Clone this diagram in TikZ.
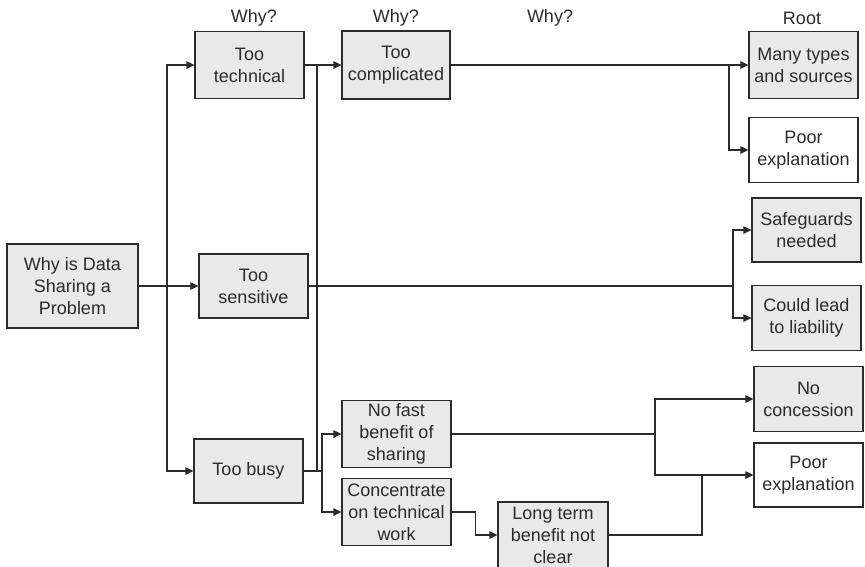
\documentclass[tikz,border=0pt]{standalone}
\usepackage{fontspec}
\setmainfont{Liberation Sans}
\usetikzlibrary{arrows.meta}
\definecolor{boxfill}{HTML}{E8E9E8}
\definecolor{inkline}{HTML}{2B2B2B}
\begin{document}
\begin{tikzpicture}[x=1pt,y=-1pt,
  every node/.style={font=\fontsize{18}{22}\selectfont, text=inkline},
  cause/.style={draw=inkline, line width=1.2pt, fill=boxfill, align=center,
    minimum width=109pt, minimum height=66pt, inner sep=0pt},
  plain/.style={cause, fill=white},
  link/.style={draw=inkline, line width=1.2pt},
  arr/.style={link, -{Triangle[length=8pt,width=7.5pt]}},
  head/.style={inner sep=0pt}]
\useasboundingbox (0,0) rectangle (865,566);

% column headings
\node[head] (h1) at (254,18) {Why?};
\node[head] (h2) at (396,18) {Why?};
\node[head] (h3) at (550,18) {Why?};
\node[head] (h4) at (802,18) {Root};

% problem statement
\node[cause, minimum width=131pt, minimum height=84pt] (q) at (72.5,286) {Why is Data\\Sharing a\\Problem};

% first level
\node[cause, minimum height=67pt] (t1) at (249.5,65) {Too\\technical};
\node[cause, minimum height=64pt] (t2) at (253.5,286) {Too\\sensitive};
\node[cause, minimum height=64pt] (t3) at (248.5,471) {Too busy};

% second level
\node[cause, minimum width=108pt, minimum height=68pt] (c1) at (396,65) {Too\\complicated};
\node[cause, minimum height=67pt] (n1) at (396.5,434) {No fast\\benefit of\\sharing};
\node[cause, minimum height=67pt] (n2) at (396.5,512) {Concentrate\\on technical\\work};

% third level
\node[cause, minimum width=110pt, minimum height=66pt] (l1) at (553,535) {Long term\\benefit not\\clear};

% roots
\node[cause, minimum height=67pt] (r1) at (803.5,65) {Many types\\and sources};
\node[plain, minimum height=65pt] (r2) at (803.5,150) {Poor\\explanation};
\node[cause, minimum height=64pt] (r3) at (806.5,230) {Safeguards\\needed};
\node[cause, minimum height=65pt] (r4) at (806.5,318) {Could lead\\to liability};
\node[cause, minimum height=65pt] (r5) at (808.5,399) {No\\concession};
\node[plain, minimum height=64pt] (r6) at (808.5,475) {Poor\\explanation};

% junction points
\coordinate (sA) at (167,286);
\coordinate (sB) at (317,65);
\coordinate (sC) at (317,471);
\coordinate (jc) at (729,65);
\coordinate (js) at (733,286);
\coordinate (jb) at (322,471);
\coordinate (jn) at (655,434);
\coordinate (jl) at (702,475);

% problem to first level
\draw[arr] (q.east) -- (t2.west);
\draw[arr] (sA) |- (t1.west);
\draw[arr] (sA) |- (t3.west);

% too technical
\draw[arr] (t1.east) -- (c1.west);
\draw[link] (sB) -- (sC);

% too complicated to roots
\draw[arr] (c1.east) -- (r1.west);
\draw[arr] (jc) |- (r2.west);

% too sensitive to roots
\draw[link] (t2.east) -- (js);
\draw[arr] (js) |- (r3.west);
\draw[arr] (js) |- (r4.west);

% too busy branches
\draw[link] (t3.east) -- (jb);
\draw[arr] (jb) |- (n1.west);
\draw[arr] (jb) |- (n2.west);
\draw[arr] (n2.east) -- ++(24,0) |- (l1.west);

% benefit branches to roots
\draw[link] (n1.east) -- (jn);
\draw[arr] (jn) |- (r5.west);
\draw[arr] (jn) |- (r6.west);
\draw[link] (l1.east) -| (jl);
\end{tikzpicture}
\end{document}
